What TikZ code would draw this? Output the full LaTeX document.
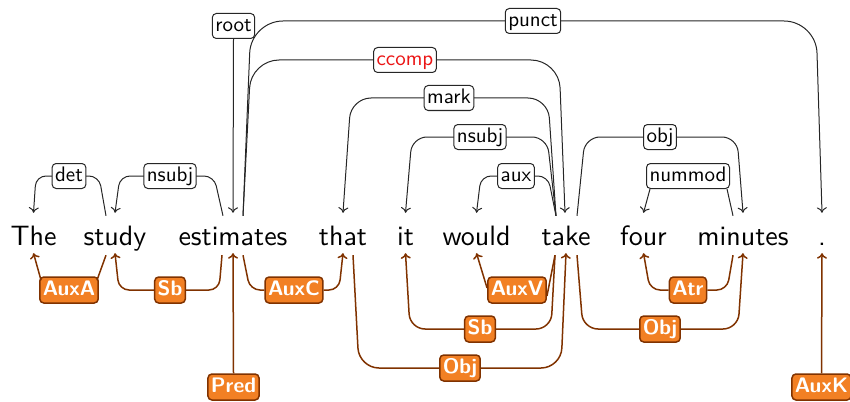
\documentclass[tikz,border=0pt]{standalone}
\usepackage{fontspec}
\setsansfont{lmsans10-regular.otf}[BoldFont=lmsans10-bold.otf]
\usetikzlibrary{arrows.meta}
\definecolor{brn}{RGB}{128,50,0}
\definecolor{org}{RGB}{242,128,36}
\definecolor{lab}{RGB}{235,20,20}
\begin{document}
\begin{tikzpicture}[x=1pt,y=-1pt,
  word/.style={anchor=base, inner sep=0pt, text height=20pt, text depth=0pt,
    font=\sffamily\fontsize{28}{30}\selectfont},
  toplab/.style={draw=black!85, line width=1pt, rounded corners=4pt, fill=white,
    inner xsep=3pt, inner ysep=2.5pt, text height=15.5pt, text depth=4.5pt,
    font=\sffamily\fontsize{21}{22}\selectfont},
  botlab/.style={draw=brn, line width=1.5pt, rounded corners=4pt, fill=org, text=white,
    inner xsep=3pt, inner ysep=3pt, text height=15.5pt, text depth=4.5pt,
    font=\sffamily\bfseries\fontsize{21}{22}\selectfont},
  tarc/.style={draw=black!85, line width=1pt},
  tarr/.style={tarc, -{Computer Modern Rightarrow[length=5.5pt,width=10pt]}},
  barc/.style={draw=brn, line width=1.5pt},
  barr/.style={barc, -{Computer Modern Rightarrow[length=5.5pt,width=10pt]}},
]
\useasboundingbox (0,0) rectangle (850,401);

% words
\node[word] (w1) at (33.5,245) {The};
\node[word] (w2) at (115,245) {study};
\node[word] (w3) at (233,245) {estimates};
\node[word] (w4) at (343,245) {that};
\node[word] (w5) at (405.5,245) {it};
\node[word] (w6) at (476.5,245) {would};
\node[word] (w7) at (566,245) {take};
\node[word] (w8) at (643.5,245) {four};
\node[word] (w9) at (743,245) {minutes};
\node[word] (w10) at (822,245) {.};

% top edges
\draw[tarc, rounded corners=10pt] ([xshift=-9pt,yshift=9pt]w2.north) -- (99,176) -- (69,176);
\draw[tarr, rounded corners=10pt] (69,176) -- (36,176) -- ([yshift=12pt]w1.north);
\draw[tarc, rounded corners=10pt] ([xshift=-10pt,yshift=9pt]w3.north) -- (214,176) -- (170,176);
\draw[tarr, rounded corners=10pt] (170,176) -- (120,176) -- ([yshift=12pt]w2.north);
\draw[tarc, rounded corners=32pt] ([xshift=10pt,yshift=9pt]w3.north) -- (251,21) -- (533,21);
\draw[tarr, rounded corners=32pt] (533,21) -- (816,21) -- ([yshift=12pt]w10.north);
\draw[tarc, rounded corners=28pt] ([xshift=10pt,yshift=9pt]w3.north) -- (251,60) -- (405,60);
\draw[tarr, rounded corners=28pt] (405,60) -- (559,60) -- ([xshift=-1pt,yshift=12pt]w7.north);
\draw[tarc, rounded corners=20pt] ([xshift=-10pt,yshift=9pt]w7.north) -- (548,98) -- (449,98);
\draw[tarr, rounded corners=20pt] (449,98) -- (351,98) -- ([yshift=12pt]w4.north);
\draw[tarc, rounded corners=15pt] ([xshift=-10pt,yshift=9pt]w7.north) -- (547,137) -- (480,137);
\draw[tarr, rounded corners=15pt] (480,137) -- (412,137) -- ([yshift=12pt]w5.north);
\draw[tarc, rounded corners=10pt] ([xshift=-10pt,yshift=9pt]w7.north) -- (548,176) -- (516,176);
\draw[tarr, rounded corners=10pt] (516,176) -- (481,176) -- ([yshift=12pt]w6.north);
\draw[tarc, rounded corners=15pt] ([xshift=11pt,yshift=9pt]w7.north) -- (585,137) -- (660,137);
\draw[tarr, rounded corners=15pt] (660,137) -- (737,137) -- ([yshift=12pt]w9.north);

% top labels
\node[toplab] (det) at (69,176) {det};
\node[toplab] (nsubjA) at (170,176) {nsubj};
\node[toplab] (root) at (233.5,26) {root};
\node[toplab] (punct) at (533,21) {punct};
\node[toplab, text=lab] (ccomp) at (405,60) {ccomp};
\node[toplab] (mark) at (449,98) {mark};
\node[toplab] (nsubjB) at (480,137) {nsubj};
\node[toplab] (aux) at (516,176) {aux};
\node[toplab] (obj) at (660,137) {obj};
\node[toplab] (nummod) at (688,176) {nummod};

\draw[tarr] (root.south) -- ([yshift=12pt]w3.north);
\draw[tarc] ([xshift=-10pt,yshift=9pt]w9.north) -- ([xshift=-3pt]nummod.south east);
\draw[tarr] ([xshift=4pt]nummod.south west) -- ([yshift=12pt]w8.north);

% bottom labels
\node[botlab] (AuxA) at (69,290) {AuxA};
\node[botlab] (SbA) at (170,290) {Sb};
\node[botlab] (Pred) at (233.5,387) {Pred};
\node[botlab] (AuxC) at (294,290) {AuxC};
\node[botlab] (ObjA) at (460,368) {Obj};
\node[botlab] (SbB) at (480,329) {Sb};
\node[botlab] (AuxV) at (517,290) {AuxV};
\node[botlab] (Atr) at (688,290) {Atr};
\node[botlab] (ObjB) at (660,329) {Obj};
\node[botlab] (AuxK) at (821.5,387) {AuxK};

% bottom edges
\draw[barr] ([xshift=2pt,yshift=-4pt]AuxA.north west) -- ([yshift=-8pt]w1.south);
\draw[barc] ([xshift=-2pt,yshift=-4pt]AuxA.north east) -- ([xshift=-9pt,yshift=-10pt]w2.south);
\draw[barr, rounded corners=10pt] (SbA.west) -- (119,290) -- ([yshift=-8pt]w2.south);
\draw[barc, rounded corners=10pt] (SbA.east) -- (219,290) -- ([xshift=-11pt,yshift=-10pt]w3.south);
\draw[barr] (Pred.north) -- ([yshift=-8pt]w3.south);
\draw[barc, rounded corners=10pt] (AuxC.west) -- (250,290) -- ([xshift=10pt,yshift=-10pt]w3.south);
\draw[barr, rounded corners=10pt] (AuxC.east) -- (339,290) -- ([yshift=-8pt]w4.south);
\draw[barc, rounded corners=20pt] (ObjA.west) -- (359,368) -- ([xshift=10pt,yshift=-10pt]w4.south);
\draw[barr, rounded corners=20pt] (ObjA.east) -- (561,368) -- ([yshift=-8pt]w7.south);
\draw[barr, rounded corners=15pt] (SbB.west) -- (410,329) -- ([yshift=-8pt]w5.south);
\draw[barc, rounded corners=15pt] (SbB.east) -- (551,329) -- ([xshift=-11pt,yshift=-10pt]w7.south);
\draw[barr] ([yshift=2pt]AuxV.west) -- ([yshift=-8pt]w6.south);
\draw[barc] ([yshift=-6pt]AuxV.east) -- ([xshift=-11pt,yshift=-10pt]w7.south);
\draw[barr, rounded corners=10pt] (Atr.west) -- (650,290) -- ([yshift=-8pt]w8.south);
\draw[barc, rounded corners=10pt] (Atr.east) -- (727,290) -- ([xshift=-10pt,yshift=-10pt]w9.south);
\draw[barc, rounded corners=15pt] (ObjB.west) -- (583,329) -- ([xshift=11pt,yshift=-10pt]w7.south);
\draw[barr, rounded corners=15pt] (ObjB.east) -- (738,329) -- ([yshift=-8pt]w9.south);
\draw[barr] (AuxK.north) -- ([yshift=-8pt]w10.south);
\end{tikzpicture}
\end{document}
